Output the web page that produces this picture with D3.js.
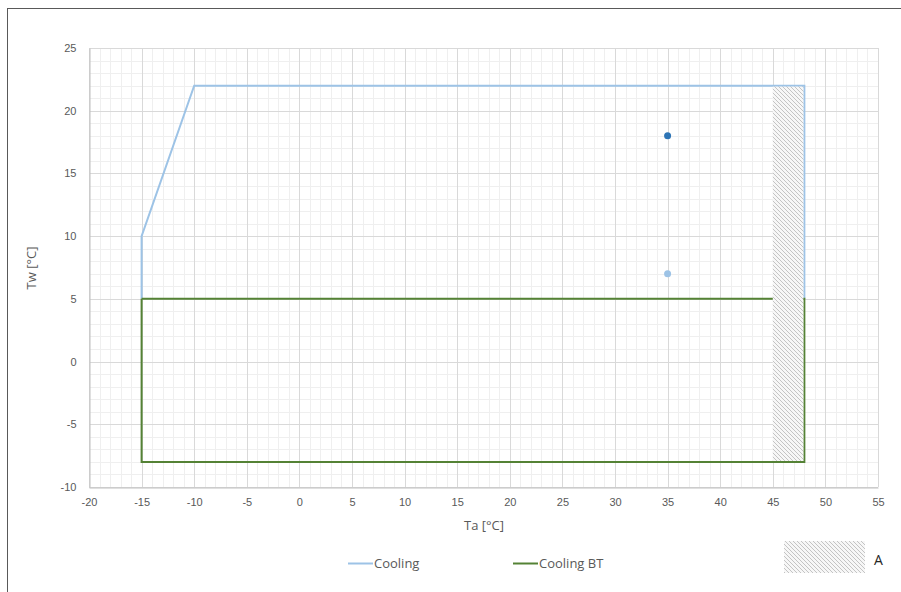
<!DOCTYPE html>
<html>
<head>
<meta charset="utf-8">
<script src="https://cdn.jsdelivr.net/npm/d3@7"></script>
<style>
  html, body { margin: 0; padding: 0; background: #fff; }
  svg { display: block; font-family: "Open Sans", "Noto Sans", sans-serif; }
</style>
</head>
<body>
<svg id="chart" width="901" height="592"></svg>
<script>
// Operating envelope data (Ta = ambient temperature, Tw = water temperature)
const coolingTa = [-15, -15, -10, 48, 48];
const coolingTw = [5, 10, 22, 22, 5];
const coolingBtTa = [-15, 48, 48, -15, -15];
const coolingBtTw = [5, 5, -8, -8, 5];
// Shaded zone "A"
const zoneA = { ta: [45, 48], tw: [-8, 22] };
// Nominal points
const pointTa = [35, 35];
const pointTw = [18, 7];
const pointColors = ["#2e75b6", "#9dc3e6"];
// Axis ticks
const xTicks = d3.range(-20, 56, 5);
const yTicks = d3.range(-10, 26, 5);
const xMinor = d3.range(-20, 56, 1);
const yMinor = d3.range(-10, 26, 1);
const seriesNames = ["Cooling", "Cooling BT"];
const seriesColors = ["#9dc3e6", "#548235"];

const svg = d3.select("#chart");

// Chart frame
svg.append("rect").attr("x", 7.5).attr("y", 8.5).attr("width", 900).attr("height", 600)
  .attr("fill", "none").attr("stroke", "#595959").attr("stroke-width", 1);

const x = d3.scaleLinear().domain([-20, 55]).range([89, 878]);
const y = d3.scaleLinear().domain([-10, 25]).range([487, 48]);

// Hatch pattern (fine downward diagonal)
const defs = svg.append("defs");
const pat = defs.append("pattern").attr("id", "hatch").attr("patternUnits", "userSpaceOnUse")
  .attr("width", 4).attr("height", 4);
pat.append("rect").attr("width", 4).attr("height", 4).attr("fill", "#f7f7f7");
pat.append("path").attr("d", "M-1,-1 L5,5 M-1,3 L1,5 M3,-1 L5,1")
  .attr("stroke", "#c4c4c4").attr("stroke-width", 1);

// Grid
const grid = svg.append("g");
grid.selectAll(".vmin").data(xMinor.filter(v => v % 5 !== 0)).join("line")
  .attr("x1", d => Math.round(x(d)) + 0.5).attr("x2", d => Math.round(x(d)) + 0.5)
  .attr("y1", y(25)).attr("y2", y(-10)).attr("stroke", "#efefef");
grid.selectAll(".hmin").data(yMinor.filter(v => v % 5 !== 0)).join("line")
  .attr("y1", d => Math.round(y(d)) + 0.5).attr("y2", d => Math.round(y(d)) + 0.5)
  .attr("x1", x(-20)).attr("x2", x(55)).attr("stroke", "#efefef");
grid.selectAll(".vmaj").data(xTicks).join("line")
  .attr("x1", d => Math.round(x(d)) + 0.5).attr("x2", d => Math.round(x(d)) + 0.5)
  .attr("y1", y(25)).attr("y2", y(-10)).attr("stroke", "#d9d9d9");
grid.selectAll(".hmaj").data(yTicks).join("line")
  .attr("y1", d => Math.round(y(d)) + 0.5).attr("y2", d => Math.round(y(d)) + 0.5)
  .attr("x1", x(-20)).attr("x2", x(55)).attr("stroke", "#d9d9d9");

// Axes
const fmt = d => String(d);
const xAxis = d3.axisBottom(x).tickValues(xTicks).tickFormat(fmt).tickSize(0).tickPadding(11);
const gx = svg.append("g").attr("transform", `translate(0,${Math.round(y(-10)) + 0.5})`).call(xAxis);
gx.select(".domain").attr("stroke", "#bfbfbf");
gx.selectAll("text").attr("fill", "#595959").style("font-size", "11px");

const yAxis = d3.axisLeft(y).tickValues(yTicks).tickFormat(fmt).tickSize(0).tickPadding(13);
const gy = svg.append("g").attr("transform", `translate(${Math.round(x(-20)) + 0.5},0)`).call(yAxis);
gy.select(".domain").attr("stroke", "#bfbfbf");
gy.selectAll("text").attr("fill", "#595959").style("font-size", "11px");

// Series lines
const line = d3.line().x(d => x(d[0])).y(d => y(d[1]));
const series = [d3.zip(coolingTa, coolingTw), d3.zip(coolingBtTa, coolingBtTw)];
svg.selectAll(".series").data(series).join("path")
  .attr("d", line).attr("fill", "none")
  .attr("stroke", (d, i) => seriesColors[i]).attr("stroke-width", 2)
  .attr("stroke-linejoin", "miter");

// Zone A
svg.append("rect")
  .attr("x", x(zoneA.ta[0])).attr("y", y(zoneA.tw[1]) + 1)
  .attr("width", x(zoneA.ta[1]) - x(zoneA.ta[0]) - 1)
  .attr("height", y(zoneA.tw[0]) - y(zoneA.tw[1]) - 2)
  .attr("fill", "url(#hatch)");

// Points
svg.selectAll(".pt").data(d3.zip(pointTa, pointTw)).join("circle")
  .attr("cx", d => x(d[0])).attr("cy", d => y(d[1])).attr("r", 3.5)
  .attr("fill", (d, i) => pointColors[i]);

// Axis titles
svg.append("text").attr("x", 484).attr("y", 530).attr("text-anchor", "middle")
  .attr("fill", "#595959").style("font-size", "13px").text("Ta [°C]");
svg.append("text").attr("transform", "translate(36,268) rotate(-90)").attr("text-anchor", "middle")
  .attr("fill", "#595959").style("font-size", "13px").text("Tw [°C]");

// Legend
const legend = [{ x: 348, name: seriesNames[0], color: seriesColors[0] },
                { x: 513, name: seriesNames[1], color: seriesColors[1] }];
const lg = svg.selectAll(".lg").data(legend).join("g");
lg.append("line").attr("x1", d => d.x).attr("x2", d => d.x + 25)
  .attr("y1", 563.5).attr("y2", 563.5).attr("stroke", d => d.color).attr("stroke-width", 2);
lg.append("text").attr("x", d => d.x + 26).attr("y", 568).attr("fill", "#595959")
  .style("font-size", "13px").text(d => d.name);

svg.append("rect").attr("x", 784).attr("y", 541).attr("width", 81).attr("height", 32)
  .attr("fill", "url(#hatch)");
svg.append("text").attr("x", 874).attr("y", 565).attr("fill", "#262626")
  .style("font-size", "14px").text("A");
</script>
</body>
</html>
